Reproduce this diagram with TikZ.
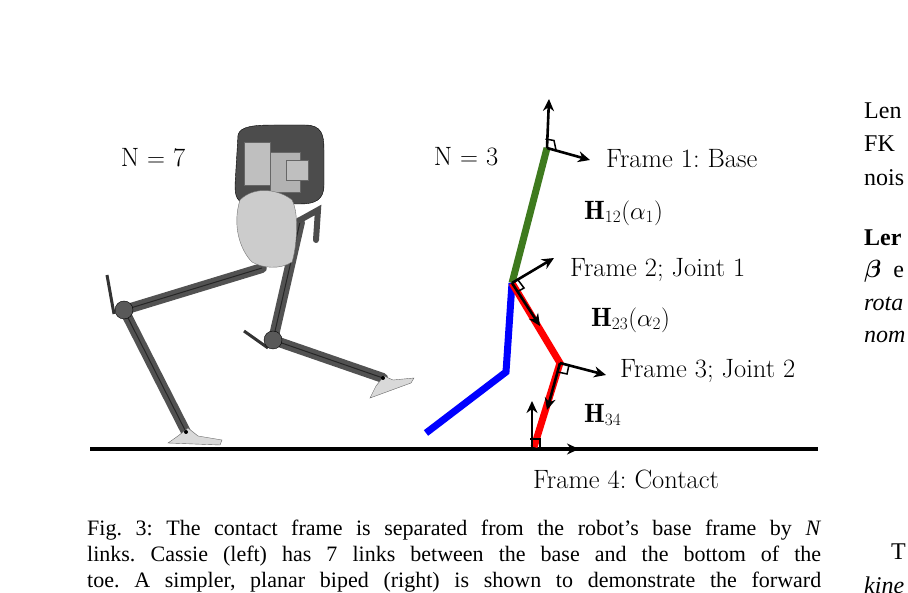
\documentclass[tikz,border=0pt]{standalone}
\usepackage{amsmath,amssymb,bm}
\usepackage{fontspec}
\newfontfamily\tnr{Liberation Serif}
\usetikzlibrary{arrows.meta}
\definecolor{lgreen}{RGB}{62,122,30}
\frenchspacing
\begin{document}
\begin{tikzpicture}[x=1pt,y=-1pt,
  lab/.style={font=\fontsize{26.5}{30}\selectfont,anchor=west,inner sep=0},
  ax/.style={line width=2.6pt,-{Stealth[length=12pt,width=11pt]}},
  link/.style={line width=7pt},
  leg/.style={line width=10pt,draw=black!68,line cap=round},
  legt/.style={line width=1pt,draw=black!85},
  captxt/.style={font=\tnr\fontsize{22}{24}\selectfont,anchor=west,inner sep=0},
  col/.style={font=\tnr\fontsize{24}{28}\selectfont,anchor=west,inner sep=0}]
\useasboundingbox (0,0) rectangle (908,593);
% ---------- robot (simplified) ----------
\coordinate (lhip) at (262,268); \coordinate (lknee) at (124,310); \coordinate (lank) at (186,432);
\coordinate (rhip) at (300,222); \coordinate (rknee) at (273,340); \coordinate (rank) at (383,378);
\draw[leg] (lhip) -- (lknee) -- (lank);
\draw[legt] (lhip) -- (lknee) -- (lank);
\draw[leg] (rhip) -- (rknee) -- (rank);
\draw[legt] (rhip) -- (rknee) -- (rank);
\draw[line width=3pt,black!80] (107,275) -- (114,314);
\draw[line width=3pt,black!80] (244,331) -- (268,348);
\fill[black!65,draw=black] (124,310) circle (9);
\fill[black!65,draw=black] (273,340) circle (9);
\fill[black!15,draw=black!60] (168,443) -- (178,436) -- (188,428) -- (198,436) -- (222,440) -- (220,445) -- cycle;
\fill[black!15,draw=black!60] (370,398) -- (376,386) -- (384,376) -- (393,380) -- (414,378) -- (411,383) -- cycle;
\fill[black] (186,432) circle (2); \fill[black] (383,378) circle (2);
\draw[black!70,line width=6pt,line cap=round] (300,220) -- (318,210) -- (316,240);
\fill[black!70,draw=black] (238,135) .. controls (240,126) and (255,125) .. (275,125) -- (305,125) .. controls (322,125) and (324,135) .. (324,150) -- (324,185) .. controls (324,200) and (315,204) .. (300,204) -- (250,204) .. controls (236,204) and (235,195) .. (235,185) -- cycle;
\fill[black!25,draw=black!60] (244,142) rectangle (270,185);
\fill[black!30,draw=black!60] (270,152) rectangle (300,192);
\fill[black!25,draw=black!60] (286,160) rectangle (308,180);
\fill[black!20,draw=black!55] (240,200) .. controls (255,185) and (280,190) .. (292,200) .. controls (300,215) and (296,250) .. (292,262) .. controls (280,270) and (262,268) .. (252,262) .. controls (240,250) and (232,225) .. (240,200) -- cycle;
% ---------- ground ----------
\coordinate (g0) at (90,449); \coordinate (g1) at (818,449);
\draw[line width=3.5pt] (g0) -- (g1);
% ---------- planar biped ----------
\coordinate (f1) at (547,148); \coordinate (f2) at (512,283);
\coordinate (b1) at (506,372); \coordinate (b2) at (426,433);
\coordinate (f3) at (560,363); \coordinate (f4) at (534,447);
\draw[link,lgreen] (f1) -- (f2);
\draw[link,blue] (f2) -- (b1) -- (b2);
\draw[link,red] (f2) -- (f3) -- (f4);
% frames
\draw[ax] (f1) -- (549,99);
\draw[ax] (f1) -- (590,160);
\draw[line width=1.5pt] (545.5,139) -- (554,140.5) -- (556,150);
\draw[ax] (f2) -- (554,258);
\draw[ax] (f2) -- (540,326);
\draw[line width=1.5pt] (518,280) -- (524,288) -- (517,292);
\draw[ax] (f3) -- (606,375);
\draw[ax] (f3) -- (547,410);
\draw[line width=1.5pt] (558,372) -- (567,374) -- (569,365);
\coordinate (f4o) at (532,449);
\draw[ax] (f4o) -- (532,401);
\draw[ax] (f4o) -- (579,449);
\draw[line width=1.5pt] (530,439) -- (540,439) -- (540,449);
% labels
\node[lab,anchor=center] (n7) at (153,158) {N $=$ 7};
\node[lab,anchor=center] (n3) at (466,157) {N $=$ 3};
\node[lab] (t1) at (606,159) {Frame 1: Base};
\node[lab] (h12) at (584,213) {$\mathbf{H}_{12}(\alpha_1)$};
\node[lab] (t2) at (570,270) {Frame 2; Joint 1};
\node[lab] (h23) at (591,320) {$\mathbf{H}_{23}(\alpha_2)$};
\node[lab] (t3) at (620,371) {Frame 3; Joint 2};
\node[lab] (h34) at (584,415) {$\mathbf{H}_{34}$};
\node[lab,anchor=center] (t4) at (626,479) {Frame 4: Contact};
% caption
\node[captxt] (c1) at (87,530) {\makebox[734pt][s]{Fig. 3: The contact frame is separated from the robot’s base frame by \textit{N}}};
\node[captxt] (c2) at (87,556) {\makebox[734pt][s]{links. Cassie (left) has 7 links between the base and the bottom of the}};
\node[captxt] (c3) at (87,582) {\makebox[734pt][s]{toe. A simpler, planar biped (right) is shown to demonstrate the forward}};
% right column
\node[col] (r1) at (864,111) {Len};
\node[col] (r2) at (864,144) {FK};
\node[col] (r3) at (864,178) {nois};
\node[col] (r4) at (864,238) {\bfseries Ler};
\node[col] (r5) at (864,271) {$\bm{\beta}$\ \ e};
\node[col] (r6) at (864,304) {\itshape rota};
\node[col] (r7) at (864,337) {\itshape nom};
\node[col] (r8) at (891,552) {T};
\node[col] (r9) at (864,585) {\itshape kine};
\end{tikzpicture}
\end{document}
